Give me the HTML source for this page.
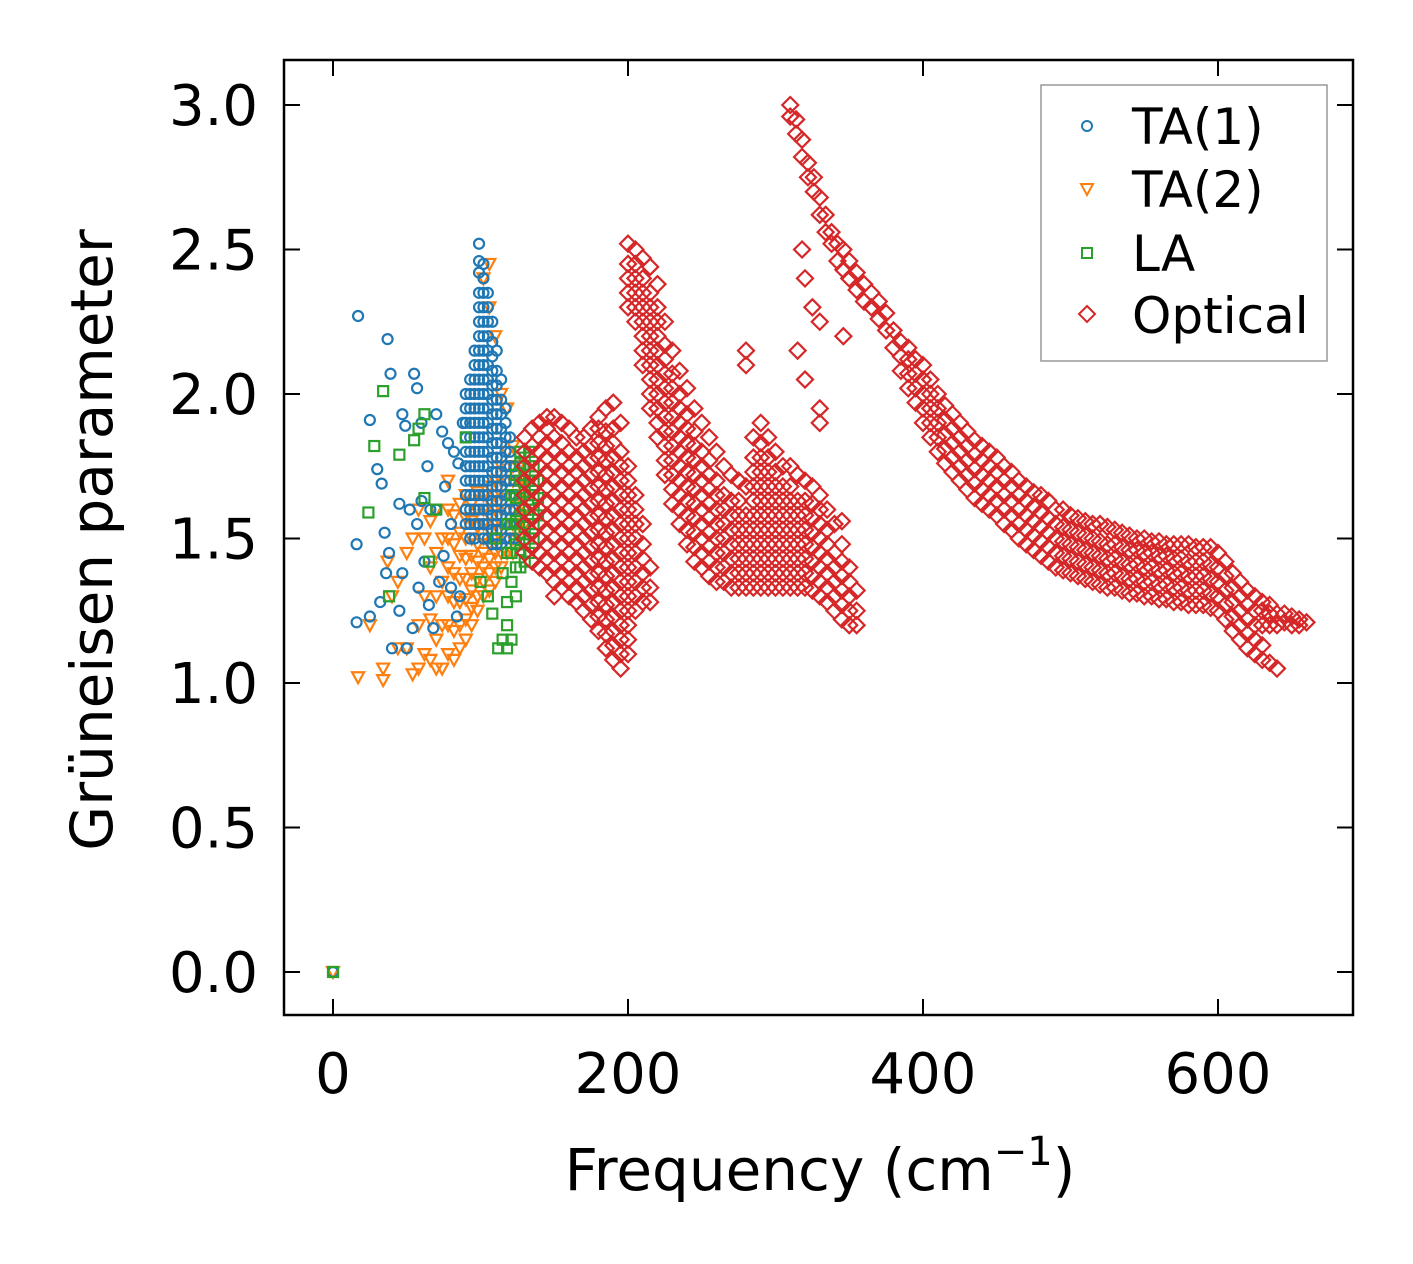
<!DOCTYPE html>
<html><head><meta charset="utf-8"><style>
html,body{margin:0;padding:0;background:#fff;}
svg{display:block;font-family:"DejaVu Sans","Liberation Sans",sans-serif;}
</style></head><body>
<svg id="chart" width="1413" height="1264" viewBox="0 0 1413 1264">
<g id="marks"></g>
<rect x="284" y="60" width="1069" height="955" fill="none" stroke="#000" stroke-width="2.5"/>
<g id="axes"></g>
<text x="820" y="1190" font-size="58" text-anchor="middle">Frequency (cm<tspan font-size="40" dy="-25">−1</tspan><tspan dy="25">)</tspan></text>
<text transform="translate(112,540) rotate(-90)" font-size="58" text-anchor="middle">Grüneisen parameter</text>
<g>
<rect x="1041" y="85" width="286" height="276" fill="#fff" stroke="#999" stroke-width="1.5"/>
<circle cx="1087" cy="126" r="5" fill="none" stroke="#1f77b4" stroke-width="2"/>
<text x="1132" y="144" font-size="50">TA(1)</text>
<path d="M1081,184 L1093,184 L1087,195 Z" fill="none" stroke="#ff7f0e" stroke-width="2"/>
<text x="1132" y="207" font-size="50">TA(2)</text>
<rect x="1082" y="248" width="10" height="10" fill="none" stroke="#2ca02c" stroke-width="2"/>
<text x="1132" y="271" font-size="50">LA</text>
<path d="M1087,306 L1095,314 L1087,322 L1079,314 Z" fill="none" stroke="#d62728" stroke-width="2"/>
<text x="1132" y="333" font-size="50">Optical</text>
</g>
</svg>
<script>
var xTicks=[0,200,400,600];
var yTicks=[0.0,0.5,1.0,1.5,2.0,2.5,3.0];
var yTickLabels=["0.0","0.5","1.0","1.5","2.0","2.5","3.0"];
var ta1Freq=[17,25,30,33,37,39,45,47,49,52,55,57,60,64,66,70,74,78,82,85,88,16,16,25,32,36,38,45,47,50,54,58,62,65,68,72,75,80,84,86,40,35,57,60,70,76,80,0,
90,93,96,99,102,105,108,111,114,117,120,123];
var ta1Gamma=[[2.27],[1.91],[1.74],[1.69],[2.19],[2.07],[1.62],[1.93],[1.89],[1.6],[2.07],[2.02],[1.9],[1.75],[1.6],[1.93],[1.87],[1.83],[1.8],[1.76],[1.9],[1.48],[1.21],[1.23],[1.28],[1.38],[1.45],[1.25],[1.38],[1.12],[1.19],[1.33],[1.42],[1.27],[1.19],[1.35],[1.44],[1.33],[1.23],[1.3],[1.12],[1.52],[1.55],[1.63],[1.6],[1.68],[1.55],[0],
[1.55,1.6,1.65,1.7,1.75,1.8,1.85,1.9,1.95,2.0],
[1.5,1.55,1.6,1.65,1.7,1.75,1.8,1.85,1.9,1.95,2.0,2.05],
[1.5,1.55,1.6,1.65,1.7,1.75,1.8,1.85,1.9,1.95,2.0,2.05,2.1,2.15],
[1.55,1.6,1.65,1.7,1.75,1.8,1.85,1.9,1.95,2.0,2.05,2.1,2.15,2.2,2.25,2.3,2.35,2.42,2.46,2.52],
[1.5,1.55,1.6,1.65,1.7,1.75,1.8,1.85,1.9,1.95,2.0,2.05,2.1,2.15,2.2,2.25,2.3,2.35,2.4,2.45],
[1.5,1.55,1.6,1.65,1.7,1.75,1.8,1.85,1.9,1.95,2.0,2.05,2.1,2.15,2.2,2.25,2.3,2.35],
[1.48,1.53,1.58,1.63,1.68,1.73,1.78,1.83,1.88,1.93,1.98,2.03,2.08,2.13,2.18,2.25],
[1.48,1.53,1.58,1.63,1.68,1.73,1.78,1.83,1.88,1.93,1.98,2.03,2.08,2.15],
[1.48,1.53,1.58,1.63,1.68,1.73,1.78,1.83,1.88,1.93,1.98,2.05],
[1.5,1.55,1.6,1.65,1.7,1.75,1.8,1.85,1.9,1.95],
[1.5,1.55,1.6,1.65,1.7,1.75,1.8,1.85],
[1.5,1.55,1.6,1.65,1.7,1.75]];
var ta2Freq=[0,17,25,34,37,40,44,50,54,58,62,66,70,74,78,82,86,90,94,98,102,106,110,114,118,122,126,130];
var ta2Gamma=[[0],[1.02],[1.2],[1.01,1.05],[1.42],[1.3],[1.12,1.35],[1.12,1.45],[1.03,1.5],[1.05,1.2,1.6],[1.1,1.3,1.5],[1.08,1.22,1.4,1.56],[1.05,1.15,1.3,1.45,1.6],[1.05,1.2,1.35,1.5],[1.1,1.2,1.3,1.4,1.5,1.6,1.7],[1.08,1.18,1.28,1.38,1.48,1.58],[1.12,1.2,1.28,1.36,1.44,1.52,1.62],[1.15,1.22,1.29,1.36,1.43,1.5,1.57,1.65],[1.2,1.26,1.32,1.38,1.44,1.5,1.56,1.62],[1.25,1.3,1.36,1.42,1.48,1.54,1.6,1.66],[1.3,1.35,1.4,1.45,1.5,1.55,1.6,1.65,2.4],[1.32,1.38,1.43,1.48,1.53,1.58,1.63,1.68,2.3,2.45],[1.35,1.4,1.45,1.5,1.55,1.6,1.65,1.7,2.2],[1.4,1.45,1.5,1.55,1.6,1.65,1.7,1.75,2.0],[1.45,1.5,1.55,1.6,1.65,1.7,1.75,1.8,1.95],[1.45,1.5,1.55,1.6,1.65,1.7,1.75,1.82],[1.5,1.55,1.6,1.65,1.7,1.75],[1.55,1.6,1.65,1.7]];
var laFreq=[0,24,28,34,38,45,55,58,62,65,70,90,100,105,108,110,112,115,118,121,124,127,130,133,136,139];
var laGamma=[[0],[1.59],[1.82],[2.01],[1.3],[1.79],[1.84],[1.88],[1.93,1.64],[1.42],[1.6],[1.85],[1.35],[1.3],[1.24],[1.5],[1.12],[1.15,1.38],[1.12,1.2,1.28,1.45,1.55],[1.15,1.35,1.45,1.55,1.65],[1.3,1.4,1.48,1.56,1.64,1.72],[1.4,1.46,1.52,1.58,1.64,1.7,1.76,1.8],[1.42,1.48,1.54,1.6,1.66,1.72,1.78],[1.45,1.5,1.55,1.6,1.65,1.7,1.75,1.8],[1.5,1.55,1.6,1.65,1.7,1.75],[1.58,1.64,1.7]];
var optFreq=[130,135,140,145,150,155,160,165,170,175,180,185,190,195,200,205,210,215,
200,205,210,215,220,225,230,235,240,245,250,255,260,265,270,275,280,
285,290,295,300,305,310,315,320,325,330,335,340,345,350,355,
310,314,318,322,326,330,334,338,342,346,350,355,360,365,370,375,380,
385,390,395,400,405,410,415,420,425,430,435,440,445,450,455,460,465,470,475,480,485,490,495,500,505,510,515,520,525,530,535,540,545,550,555,560,565,570,575,580,585,590,595,600,605,610,615,620,625,630,635,640,645,650,655,660,
318,325,330,346,320,150,155];
var optGamma=[
[1.45,1.5,1.55,1.6,1.65,1.7,1.75,1.8,1.85],
[1.42,1.47,1.52,1.57,1.62,1.67,1.72,1.77,1.82,1.88],
[1.4,1.45,1.5,1.55,1.6,1.65,1.7,1.75,1.8,1.85,1.9],
[1.38,1.43,1.48,1.53,1.58,1.63,1.68,1.73,1.78,1.83,1.88,1.92],
[1.35,1.4,1.45,1.5,1.55,1.6,1.65,1.7,1.75,1.8,1.85,1.92],
[1.33,1.38,1.43,1.48,1.53,1.58,1.63,1.68,1.73,1.78,1.83,1.9],
[1.3,1.35,1.4,1.45,1.5,1.55,1.6,1.65,1.7,1.75,1.8,1.88],
[1.28,1.33,1.38,1.43,1.48,1.53,1.58,1.63,1.68,1.73,1.78,1.85],
[1.25,1.3,1.35,1.4,1.45,1.5,1.55,1.6,1.65,1.7,1.75,1.8,1.85],
[1.22,1.27,1.32,1.37,1.42,1.47,1.52,1.57,1.62,1.67,1.72,1.77,1.82,1.88],
[1.18,1.23,1.28,1.33,1.38,1.43,1.48,1.53,1.58,1.63,1.68,1.73,1.78,1.83,1.88,1.92],
[1.12,1.17,1.22,1.27,1.32,1.37,1.42,1.47,1.52,1.57,1.62,1.67,1.72,1.77,1.82,1.87,1.95],
[1.08,1.13,1.18,1.23,1.28,1.33,1.38,1.43,1.48,1.53,1.58,1.63,1.68,1.73,1.78,1.83,1.88,1.97],
[1.05,1.1,1.15,1.2,1.25,1.3,1.35,1.4,1.45,1.5,1.55,1.6,1.65,1.7,1.75,1.8,1.9],
[1.1,1.15,1.2,1.25,1.3,1.35,1.4,1.45,1.5,1.55,1.6,1.65,1.7,1.75],
[1.25,1.3,1.35,1.4,1.45,1.5,1.55,1.6,1.65],
[1.28,1.33,1.38,1.43,1.48,1.55],
[1.28,1.33,1.4],
[2.3,2.35,2.4,2.45,2.52],
[2.25,2.3,2.35,2.4,2.45,2.5],
[2.1,2.15,2.2,2.25,2.3,2.35,2.4,2.47],
[1.95,2.0,2.05,2.1,2.15,2.2,2.25,2.3,2.35,2.44],
[1.85,1.9,1.95,2.0,2.05,2.1,2.15,2.2,2.25,2.3,2.38],
[1.72,1.77,1.82,1.87,1.92,1.97,2.02,2.07,2.12,2.17,2.25],
[1.62,1.67,1.72,1.77,1.82,1.87,1.92,1.97,2.02,2.07,2.15],
[1.55,1.6,1.65,1.7,1.75,1.8,1.85,1.9,1.95,2.0,2.08],
[1.48,1.53,1.58,1.63,1.68,1.73,1.78,1.83,1.88,1.93,2.02],
[1.42,1.47,1.52,1.57,1.62,1.67,1.72,1.77,1.82,1.87,1.95],
[1.4,1.45,1.5,1.55,1.6,1.65,1.7,1.75,1.8,1.9],
[1.37,1.42,1.47,1.52,1.57,1.62,1.67,1.72,1.77,1.85],
[1.35,1.4,1.45,1.5,1.55,1.6,1.65,1.7,1.8],
[1.35,1.4,1.45,1.5,1.55,1.6,1.65,1.75],
[1.33,1.38,1.43,1.48,1.53,1.58,1.63,1.72],
[1.33,1.38,1.43,1.48,1.53,1.58,1.63,1.7],
[1.33,1.38,1.43,1.48,1.53,1.58,1.68,2.1,2.15],
[1.33,1.38,1.43,1.48,1.53,1.58,1.63,1.68,1.73,1.78,1.85],
[1.33,1.38,1.43,1.48,1.53,1.58,1.63,1.68,1.73,1.78,1.83,1.9],
[1.33,1.38,1.43,1.48,1.53,1.58,1.63,1.68,1.73,1.78,1.85],
[1.33,1.38,1.43,1.48,1.53,1.58,1.63,1.68,1.73,1.8],
[1.33,1.38,1.43,1.48,1.53,1.58,1.63,1.68,1.75],
[1.33,1.38,1.43,1.48,1.53,1.58,1.63,1.68,1.75],
[1.33,1.38,1.43,1.48,1.53,1.58,1.63,1.72,2.15],
[1.33,1.38,1.43,1.48,1.53,1.58,1.63,1.7,2.05],
[1.32,1.37,1.42,1.47,1.52,1.57,1.62,1.68],
[1.3,1.35,1.4,1.45,1.5,1.55,1.6,1.65,1.9,1.95],
[1.28,1.33,1.38,1.43,1.48,1.53,1.6],
[1.25,1.3,1.35,1.4,1.45,1.55],
[1.22,1.27,1.32,1.37,1.42,1.48,1.56],
[1.2,1.25,1.3,1.35,1.4],
[1.2,1.25,1.32],
[2.96,3.0],[2.9,2.95],[2.82,2.88],[2.75,2.8],[2.7,2.75],[2.62,2.68],[2.56,2.62],[2.52,2.56],[2.46,2.52],[2.43,2.5],[2.4,2.46],[2.36,2.42],[2.32,2.38],[2.3,2.35],[2.26,2.32],[2.22,2.28],[2.16,2.22],
[2.08,2.13,2.18],[2.02,2.07,2.12,2.16],[1.97,2.02,2.07,2.12],[1.9,1.95,2.0,2.05,2.1],[1.85,1.9,1.95,2.0,2.05],[1.8,1.85,1.9,1.95,2.0],[1.76,1.81,1.86,1.91,1.96],[1.73,1.78,1.83,1.88,1.93],[1.7,1.75,1.8,1.85,1.9],[1.67,1.72,1.77,1.82,1.87],[1.64,1.69,1.74,1.79,1.84],[1.62,1.67,1.72,1.77,1.82],[1.6,1.65,1.7,1.75,1.8],[1.58,1.63,1.68,1.73,1.78],[1.55,1.6,1.65,1.7,1.75],[1.53,1.58,1.63,1.68,1.73],[1.5,1.55,1.6,1.65,1.7],[1.48,1.53,1.58,1.63,1.68],[1.46,1.51,1.56,1.61,1.66],[1.44,1.49,1.54,1.59,1.65],[1.42,1.47,1.52,1.57,1.63],[1.4,1.45,1.5,1.55,1.6],[1.39,1.44,1.49,1.54,1.6],[1.38,1.43,1.48,1.53,1.58],[1.37,1.42,1.47,1.52,1.57],[1.36,1.41,1.46,1.51,1.56],[1.35,1.4,1.45,1.5,1.55],[1.34,1.39,1.44,1.49,1.55],[1.33,1.38,1.43,1.48,1.54],[1.33,1.38,1.43,1.48,1.53],[1.32,1.37,1.42,1.47,1.52],[1.31,1.36,1.41,1.46,1.51],[1.31,1.36,1.41,1.46,1.5],[1.3,1.35,1.4,1.45,1.5],[1.3,1.35,1.4,1.45,1.49],[1.29,1.34,1.39,1.44,1.49],[1.29,1.34,1.39,1.44,1.48],[1.28,1.33,1.38,1.43,1.48],[1.28,1.33,1.38,1.43,1.48],[1.27,1.32,1.37,1.42,1.48],[1.27,1.32,1.37,1.42,1.47],[1.27,1.32,1.37,1.42,1.47],[1.26,1.31,1.36,1.41,1.47],[1.25,1.3,1.35,1.4,1.45],[1.22,1.27,1.32,1.37,1.42],[1.18,1.23,1.28,1.33,1.38],[1.15,1.2,1.25,1.3,1.35],[1.12,1.17,1.22,1.27,1.32],[1.1,1.15,1.2,1.25,1.3],[1.08,1.13,1.2,1.25,1.28],[1.07,1.2,1.24,1.27],[1.05,1.2,1.24],[1.21,1.24],[1.2,1.23],[1.2,1.22],[1.21],
[2.5],[2.3],[2.25],[2.2],[2.4],[1.3],[1.38]];

var NS="http://www.w3.org/2000/svg";
function xs(v){return 333+v*1.475;}
function ys(v){return 972-v*289;}
var marks=document.getElementById('marks');
var axes=document.getElementById('axes');
function mk(tag,attrs,parent){var e=document.createElementNS(NS,tag);for(var k in attrs)e.setAttribute(k,attrs[k]);parent.appendChild(e);return e;}
function drawSeries(freq,gamma,shape,color,name){
  var g=mk('g',{},marks);
  
  
  for(var i=0;i<freq.length;i++){for(var j=0;j<gamma[i].length;j++){
    var cx=xs(freq[i]),cy=ys(gamma[i][j]),e;
    if(shape==='circle'){e=mk('circle',{cx:cx,cy:cy,r:5},g);}
    else if(shape==='tri'){e=mk('path',{d:'M'+(cx-6)+','+(cy-5)+' L'+(cx+6)+','+(cy-5)+' L'+cx+','+(cy+6)+' Z'},g);}
    else if(shape==='square'){e=mk('rect',{x:cx-5,y:cy-5,width:10,height:10},g);}
    else {e=mk('path',{d:'M'+cx+','+(cy-8)+' L'+(cx+8)+','+cy+' L'+cx+','+(cy+8)+' L'+(cx-8)+','+cy+' Z'},g);}
    e.setAttribute('fill','none');e.setAttribute('stroke',color);e.setAttribute('stroke-width','2.2');
    
    
  }}
}
drawSeries(ta2Freq,ta2Gamma,'tri','#ff7f0e','ta2');
drawSeries(ta1Freq,ta1Gamma,'circle','#1f77b4','ta1');
drawSeries(laFreq,laGamma,'square','#2ca02c','la');
drawSeries(optFreq,optGamma,'diamond','#d62728','optical');
xTicks.forEach(function(t){
  var x=xs(t);
  var l1=mk('line',{x1:x,x2:x,y1:1015,y2:999,stroke:'#000','stroke-width':2},axes);
  
  
  var l2=mk('line',{x1:x,x2:x,y1:60,y2:76,stroke:'#000','stroke-width':2},axes);
  
  
  var tx=mk('text',{x:x,y:1093,'font-size':56,'text-anchor':'middle'},axes);
  tx.textContent=String(t);
  
  
});
yTicks.forEach(function(t,i){
  var y=ys(t);
  var l1=mk('line',{x1:284,x2:300,y1:y,y2:y,stroke:'#000','stroke-width':2},axes);
  
  
  var l2=mk('line',{x1:1353,x2:1337,y1:y,y2:y,stroke:'#000','stroke-width':2},axes);
  
  
  var tx=mk('text',{x:258,y:y+20,'font-size':56,'text-anchor':'end'},axes);
  tx.textContent=yTickLabels[i];
  
  
});
</script>
</body></html>
